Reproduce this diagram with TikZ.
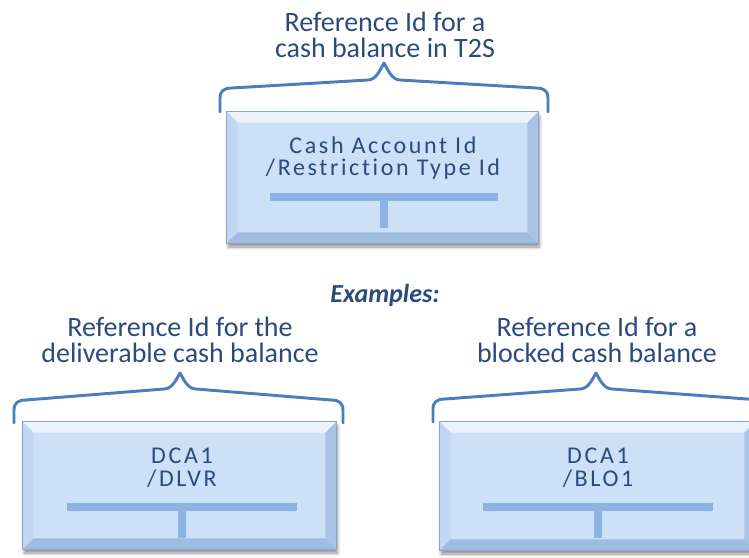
\documentclass[tikz,border=0pt]{standalone}
\usepackage{fontspec}
\setmainfont{Carlito}[Ligatures={NoCommon}]
\usetikzlibrary{fit,calc,shadows.blur}
\definecolor{txtblue}{HTML}{2A4B7C}
\definecolor{bracecol}{HTML}{4A7EBB}
\definecolor{boxfill}{HTML}{CCE0F8}
\definecolor{bevtop}{HTML}{EBF3FD}
\definecolor{bevleft}{HTML}{C0D6F2}
\definecolor{bevright}{HTML}{A9C3E6}
\definecolor{bevbot}{HTML}{A0BBE0}
\definecolor{barcol}{HTML}{8CB3E3}
\definecolor{edgecol}{HTML}{8AA6CC}
\tikzset{
  keybox/.style={inner sep=0pt, draw=edgecol, line width=0.4pt, fill=boxfill,
    blur shadow={shadow xshift=1pt, shadow yshift=-3pt, shadow blur radius=2.5pt, shadow blur steps=6, shadow opacity=45}},
  lbltext/.style={align=center, text=txtblue, font=\fontsize{21}{19}\selectfont, inner sep=0pt},
  boxtext/.style={align=center, text=txtblue, font=\fontsize{18}{17}\selectfont\addfontfeature{LetterSpace=11}, inner sep=0pt},
  bracestyle/.style={draw=bracecol, line width=2.2pt, line cap=round, line join=round},
  barstyle/.style={draw=barcol, line width=5.5pt},
}
\newcommand{\bevelit}[1]{%
  \fill[bevtop] (#1.north west) -- (#1.north east) -- ($(#1.north east)+(-11,11)$) -- ($(#1.north west)+(11,11)$) -- cycle;
  \fill[bevleft] (#1.north west) -- ($(#1.north west)+(11,11)$) -- ($(#1.south west)+(11,-11)$) -- (#1.south west) -- cycle;
  \fill[bevright] (#1.north east) -- ($(#1.north east)+(-11,11)$) -- ($(#1.south east)+(-11,-11)$) -- (#1.south east) -- cycle;
  \fill[bevbot] (#1.south west) -- ($(#1.south west)+(11,-11)$) -- ($(#1.south east)+(-11,-11)$) -- (#1.south east) -- cycle;
  \draw[edgecol, line width=0.4pt] (#1.north west) rectangle (#1.south east);
}
\begin{document}
\begin{tikzpicture}[x=0.75pt, y=-0.75pt]
\useasboundingbox (0,0) rectangle (749,557);
\begin{scope}
\clip (0,0) rectangle (749,557);
% top group
\node (lblT) [lbltext] at (385,35) {Reference Id for a\\cash balance in T2S};
\draw[bracestyle] (220,112) -- (220,98) .. controls (220,91) and (224,88) .. (232,88) -- (368,80) .. controls (376,80) and (380,70) .. (384,63) .. controls (388,70) and (392,80) .. (400,80) -- (536,88) .. controls (544,88) and (548,91) .. (548,98) -- (548,112);
\node (boxT) [keybox, fit={(227,112) (538,243)}] {};
\bevelit{boxT}
\node (txtT) [boxtext] at (383,158) {Cash Account Id\\/Restriction Type Id};
\draw[barstyle] (270,197) -- (498,197);
\draw[barstyle] (384,197) -- (384,228);
% examples
\node (ex) [anchor=base, inner sep=0pt, text=txtblue, font=\fontsize{19.5}{22}\selectfont\bfseries\itshape] at (385,302) {Examples:};
% bottom left
\node (lblL) [lbltext] at (180,340) {Reference Id for the\\deliverable cash balance};
\draw[bracestyle] (14,423) -- (14,410) .. controls (14,403) and (18,400) .. (26,400) -- (164,389) .. controls (172,389) and (176,380) .. (180,373) .. controls (184,380) and (188,389) .. (196,389) -- (331,400) .. controls (339,400) and (343,403) .. (343,410) -- (343,423);
\node (boxL) [keybox, fit={(23,422) (336,549)}] {};
\bevelit{boxL}
\node (txtL) [boxtext] at (182,468) {DCA1\\/DLVR};
\draw[barstyle] (67,507) -- (297,507);
\draw[barstyle] (182,507) -- (182,538);
% bottom right
\node (lblR) [lbltext] at (597,340) {Reference Id for a\\blocked cash balance};
\draw[bracestyle] (433,422) -- (433,409) .. controls (433,402) and (437,399) .. (445,399) -- (580,389) .. controls (588,389) and (592,380) .. (596,373) .. controls (600,380) and (604,389) .. (612,389) -- (747,399) .. controls (755,399) and (759,402) .. (759,409) -- (759,422);
\node (boxR) [keybox, fit={(440,422) (755,550)}] {};
\bevelit{boxR}
\node (txtR) [boxtext] at (598,468) {DCA1\\/BLO1};
\draw[barstyle] (483,507) -- (713,507);
\draw[barstyle] (598,507) -- (598,538);
\end{scope}
\end{tikzpicture}
\end{document}
